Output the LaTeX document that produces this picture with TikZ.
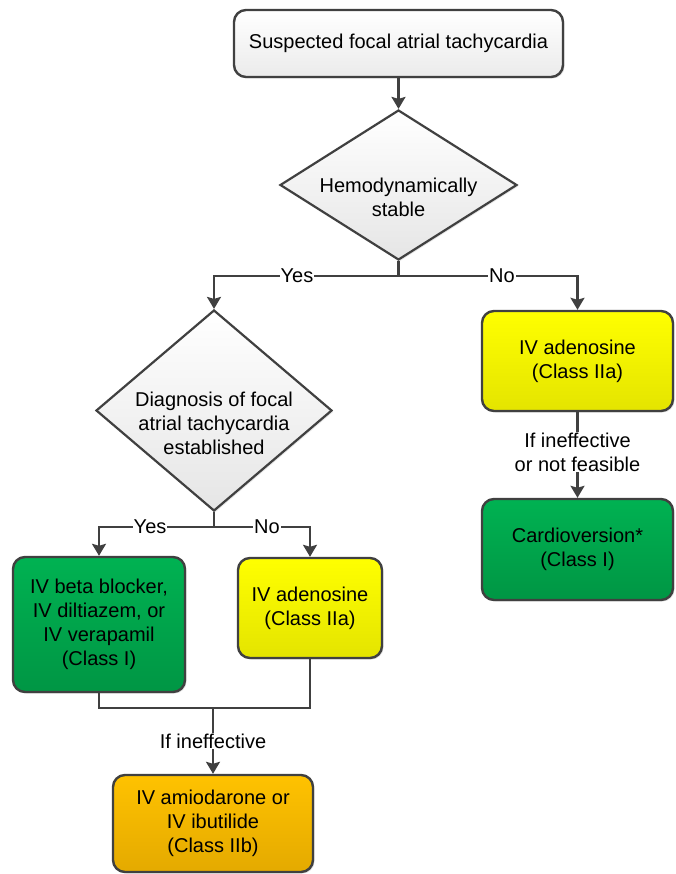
\documentclass[tikz,border=0pt]{standalone}
\usepackage{fontspec}
\setmainfont{Liberation Sans}
\usetikzlibrary{arrows.meta,shapes.geometric,shadows}
\definecolor{edge}{RGB}{64,64,64}
\definecolor{grnT}{RGB}{0,178,82}
\definecolor{grnB}{RGB}{0,150,68}
\definecolor{ylwT}{RGB}{255,255,0}
\definecolor{ylwB}{RGB}{228,228,0}
\definecolor{orgT}{RGB}{255,194,0}
\definecolor{orgB}{RGB}{228,170,0}
\tikzset{
  txt/.style={font=\fontsize{20}{24}\selectfont, align=center, text=black},
  boxbase/.style={txt, rectangle, rounded corners=12pt, draw=edge, line width=2.4pt, inner sep=0pt,
     drop shadow={shadow xshift=1.5pt, shadow yshift=-1.5pt, opacity=0.25}},
  graybox/.style={boxbase, top color=white, bottom color=black!8},
  greenbox/.style={boxbase, top color=grnT, bottom color=grnB},
  yellowbox/.style={boxbase, top color=ylwT, bottom color=ylwB},
  orangebox/.style={boxbase, top color=orgT, bottom color=orgB},
  decision/.style={diamond, draw=edge, line width=2.2pt, inner sep=0pt, top color=white, bottom color=black!10,
     drop shadow={shadow xshift=1.5pt, shadow yshift=-1.5pt, opacity=0.2}},
  conn/.style={draw=edge, line width=2.2pt},
  arr/.style={conn, -{Stealth[length=12pt,width=14pt,inset=2pt]}},
  lbl/.style={txt, fill=white, inner sep=1pt}
}
\begin{document}
\begin{tikzpicture}[x=1pt,y=-1pt]
\useasboundingbox (0,0) rectangle (675,874);

% nodes
\node[graybox, minimum width=329pt, minimum height=67pt] (top) at (398.5,43.5) {Suspected focal atrial tachycardia};

\node[decision, minimum width=237pt, minimum height=150pt] (d1) at (398.5,185) {};
\node[txt] (d1t) at (398.5,197) {Hemodynamically\\stable};

\node[decision, minimum width=236pt, minimum height=201pt] (d2) at (214,410.5) {};
\node[txt] (d2t) at (214,423) {Diagnosis of focal\\atrial tachycardia\\established};

\node[yellowbox, minimum width=191pt, minimum height=100pt] (ya) at (577.5,361) {IV adenosine\\(Class IIa)};
\node[greenbox, minimum width=191pt, minimum height=101pt] (gb) at (577.5,549.5) {Cardioversion*\\(Class I)};

\node[greenbox, minimum width=172pt, minimum height=135pt] (g1) at (99,624.5) {IV beta blocker,\\IV diltiazem, or\\IV verapamil\\(Class I)};
\node[yellowbox, minimum width=144pt, minimum height=100pt] (y2) at (310,608) {IV adenosine\\(Class IIa)};

\node[orangebox, minimum width=200pt, minimum height=97pt] (or) at (213,823.5) {IV amiodarone or\\IV ibutilide\\(Class IIb)};

% junction coordinates
\coordinate (j1) at (398.5,276);
\coordinate (j2) at (214,527);
\coordinate (j3) at (213,708);

% connectors
\draw[arr] (top.south) -- (d1.north);
\draw[conn] (d1.south) -- (j1);
\draw[arr] (j1) -| (d2.north) node[lbl, pos=0.275] {Yes};
\draw[arr] (j1) -| (ya.north) node[lbl, pos=0.289] {No};

\draw[conn] (d2.south) -- (j2);
\draw[arr] (j2) -| (g1.north) node[lbl, pos=0.278] {Yes};
\draw[arr] (j2) -| (y2.north) node[lbl, pos=0.276] {No};

\draw[arr] (ya.south) -- (gb.north) node[lbl, midway, yshift=3pt] {If ineffective\\or not feasible};

\draw[conn] (g1.south) |- (j3) -| (y2.south);
\draw[arr] (j3) -- (or.north) node[lbl, midway] {If ineffective};
\end{tikzpicture}
\end{document}
